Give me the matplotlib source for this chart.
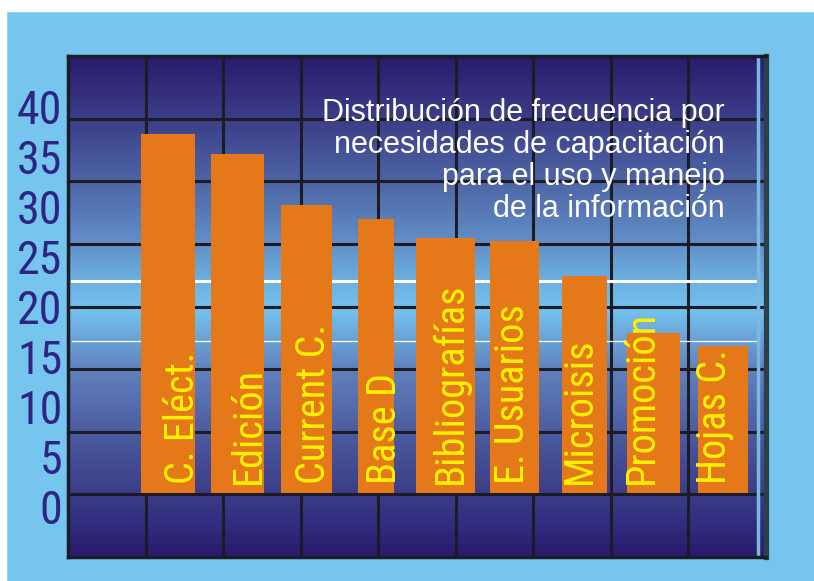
import matplotlib.pyplot as plt
import numpy as np
from matplotlib.colors import LinearSegmentedColormap
from matplotlib.patches import Rectangle
from matplotlib.transforms import ScaledTranslation

# data
categories = ['C. Eléct.', 'Edición', 'Current C.', 'Base D', 'Bibliografías',
              'E. Usuarios', 'Microisis', 'Promoción', 'Hojas C.']
frequency = [35.9, 33.9, 28.8, 27.4, 25.5, 25.2, 21.7, 16.0, 14.7]
ytick_values = [0, 5, 10, 15, 20, 25, 30, 35, 40]
title = ('Distribución de frecuencia por\nnecesidades de capacitación\n'
         'para el uso y manejo\nde la información')

# styling (not data)
bar_widths = [0.79, 0.76, 0.73, 0.52, 0.84, 0.71, 0.65, 0.76, 0.73]
label_nudge = [0.21, 0.16, 0.10, 0.12, 0.07, -0.03, -0.07, -0.17, -0.12]
orange = '#e57818'
yellow = '#fff200'
navy = '#2d2483'
sky = '#76c5ef'
gridc = '#1d1c26'
cond = ['Roboto Condensed', 'DejaVu Sans']

fig = plt.figure(figsize=(8.14, 5.81), dpi=100, facecolor=sky)
ax = fig.add_axes([68/814, (581-557)/581, 698/814, 501/581])

# white strips at top/left edge of the original scan
fig.patches.append(Rectangle((0, (581-11)/581), 1, 11/581, transform=fig.transFigure,
                             color='white', zorder=-5))
fig.patches.append(Rectangle((0, 0), 6/814, 1, transform=fig.transFigure,
                             color='white', zorder=-5))

# vertical gradient background
stops = [(0.0, '#2a1a6e'), (0.074, '#333080'), (0.128, '#3c3e88'), (0.25, '#4c5ca0'),
         (0.375, '#6082be'), (0.433, '#6aa2d6'), (0.493, '#74c2ee'), (0.551, '#6cb0e0'),
         (0.625, '#6290c8'), (0.749, '#4e66a6'), (0.876, '#3c3e88'), (1.0, '#2a1c6e')]
cmap = LinearSegmentedColormap.from_list('bg', stops)
grad = np.linspace(0, 1, 400).reshape(-1, 1)
ax.imshow(grad, cmap=cmap, origin='lower', extent=[0, 1, 0, 1],
          transform=ax.transAxes, aspect='auto', zorder=0)

# decorative grid: 9 columns x 8 rows
for k in range(1, 9):
    ax.plot([k/9, k/9], [0, 1], transform=ax.transAxes, color=gridc, lw=2.2, zorder=1)
for k in range(1, 8):
    ax.plot([0, 1], [k/8, k/8], transform=ax.transAxes, color=gridc, lw=2.2, zorder=1)

# white lines behind bars
ax.plot([0.006, 0.985], [0.551, 0.551], transform=ax.transAxes, color='white', lw=2.2, zorder=2)
ax.plot([0.006, 0.985], [0.431, 0.431], transform=ax.transAxes, color='white', lw=0.9, zorder=2)
# light strip next to the right border
ax.plot([0.988, 0.988], [0, 1], transform=ax.transAxes, color='#7ab8e0', lw=2.5, zorder=2)

x = np.arange(len(categories))
ax.bar(x, frequency, width=bar_widths, color=orange, zorder=3)

for i, name in enumerate(categories):
    ax.text(x[i] + label_nudge[i], 0.9, name, rotation=90, ha='center', va='bottom',
            color=yellow, fontsize=29, family=cond, zorder=4)

ax.text(0.941, 0.916, title, transform=ax.transAxes, ha='right', va='top',
        multialignment='right', color='white', fontsize=22, linespacing=1.08,
        family=['Liberation Sans', 'DejaVu Sans'], zorder=4)

ax.set_xlim(-1.44, 8.62)
ax.set_ylim(-6.4, 43.7)
ax.set_xticks([])
ax.set_yticks(ytick_values, [str(v) for v in ytick_values], va='center')
ax.tick_params(axis='y', length=0, pad=4, labelsize=33, labelcolor=navy)
# the labels sit a little below their value in the original
shift = ScaledTranslation(0, -18.5/100, fig.dpi_scale_trans)
for lab in ax.get_yticklabels():
    lab.set_family(cond)
    lab.set_transform(lab.get_transform() + shift)

for side in ['left', 'top', 'bottom']:
    ax.spines[side].set_color(gridc)
    ax.spines[side].set_linewidth(2.5)
ax.spines['right'].set_color('#2f3f48')
ax.spines['right'].set_linewidth(3.8)
for sp in ax.spines.values():
    sp.set_zorder(5)

plt.savefig('out.png', dpi=100, facecolor=fig.get_facecolor())
